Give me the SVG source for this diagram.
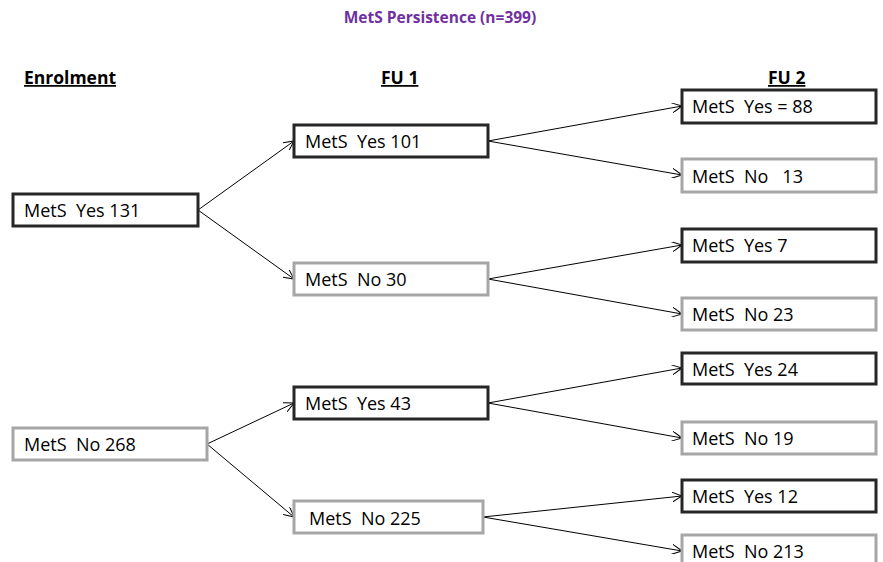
<svg xmlns="http://www.w3.org/2000/svg" width="883" height="562" viewBox="0 0 883 562">
<style>
.t{font-family:"Open Sans","Liberation Sans",sans-serif;font-size:18px;fill:#000;white-space:pre}
.h{font-family:"Open Sans","Liberation Sans",sans-serif;font-size:17.5px;font-weight:bold;fill:#000;text-decoration:underline}
.y{fill:#fff;stroke:#262626;stroke-width:3}
.n{fill:#fff;stroke:#a6a6a6;stroke-width:3}
.c{stroke:#000;stroke-width:1;fill:none;marker-end:url(#a)}
</style>
<defs>
<marker id="a" viewBox="0 0 10 10" refX="10" refY="5" markerWidth="10" markerHeight="10" markerUnits="userSpaceOnUse" orient="auto">
<path d="M0,0 L10,5 L0,10" fill="none" stroke="#000" stroke-width="1"/>
</marker>
</defs>
<text x="440" y="23" text-anchor="middle" style="font-family:'Open Sans','Liberation Sans',sans-serif;font-size:15.5px;font-weight:bold;fill:#7030a0">MetS Persistence (n=399)</text>
<text class="h" x="24" y="84">Enrolment</text>
<text class="h" x="381" y="84">FU 1</text>
<text class="h" x="768" y="84">FU 2</text>
<g id="connectors">
<line class="c" x1="198" y1="210" x2="294" y2="141"/>
<line class="c" x1="198" y1="210" x2="294" y2="279"/>
<line class="c" x1="207" y1="444" x2="294" y2="403"/>
<line class="c" x1="207" y1="444" x2="294" y2="517"/>
<line class="c" x1="488" y1="141" x2="682" y2="106"/>
<line class="c" x1="488" y1="141" x2="682" y2="175"/>
<line class="c" x1="488" y1="279" x2="682" y2="245"/>
<line class="c" x1="488" y1="279" x2="682" y2="314"/>
<line class="c" x1="488" y1="403" x2="682" y2="368"/>
<line class="c" x1="488" y1="403" x2="682" y2="438"/>
<line class="c" x1="483" y1="517" x2="682" y2="496"/>
<line class="c" x1="483" y1="517" x2="682" y2="551"/>
</g>
<g id="e-yes"><rect class="y" x="13" y="194" width="185" height="32"/><text class="t" x="24" y="217" xml:space="preserve">MetS  Yes 131</text></g>
<g id="e-no"><rect class="n" x="13" y="428" width="194" height="32"/><text class="t" x="24" y="451" xml:space="preserve">MetS  No 268</text></g>
<g id="f1-yes101"><rect class="y" x="294" y="125" width="194" height="32"/><text class="t" x="305" y="148" xml:space="preserve">MetS  Yes 101</text></g>
<g id="f1-no30"><rect class="n" x="294" y="263" width="194" height="32"/><text class="t" x="305" y="286" xml:space="preserve">MetS  No 30</text></g>
<g id="f1-yes43"><rect class="y" x="294" y="387" width="194" height="32"/><text class="t" x="305" y="410" xml:space="preserve">MetS  Yes 43</text></g>
<g id="f1-no225"><rect class="n" x="294" y="501" width="189" height="32"/><text class="t" x="309" y="525" xml:space="preserve">MetS  No 225</text></g>
<g id="f2-yes88"><rect class="y" x="682" y="90" width="194" height="33"/><text class="t" x="692" y="113" xml:space="preserve">MetS  Yes = 88</text></g>
<g id="f2-no13"><rect class="n" x="682" y="159" width="194" height="33"/><text class="t" x="692" y="183" xml:space="preserve">MetS  No   13</text></g>
<g id="f2-yes7"><rect class="y" x="682" y="229" width="194" height="33"/><text class="t" x="692" y="252" xml:space="preserve">MetS  Yes 7</text></g>
<g id="f2-no23"><rect class="n" x="682" y="298" width="194" height="32"/><text class="t" x="692" y="321" xml:space="preserve">MetS  No 23</text></g>
<g id="f2-yes24"><rect class="y" x="682" y="353" width="194" height="31"/><text class="t" x="692" y="376" xml:space="preserve">MetS  Yes 24</text></g>
<g id="f2-no19"><rect class="n" x="682" y="422" width="194" height="32"/><text class="t" x="692" y="445" xml:space="preserve">MetS  No 19</text></g>
<g id="f2-yes12"><rect class="y" x="682" y="480" width="194" height="32"/><text class="t" x="692" y="503" xml:space="preserve">MetS  Yes 12</text></g>
<g id="f2-no213"><rect class="n" x="682" y="535" width="194" height="40"/><text class="t" x="692" y="558" xml:space="preserve">MetS  No 213</text></g>
</svg>
